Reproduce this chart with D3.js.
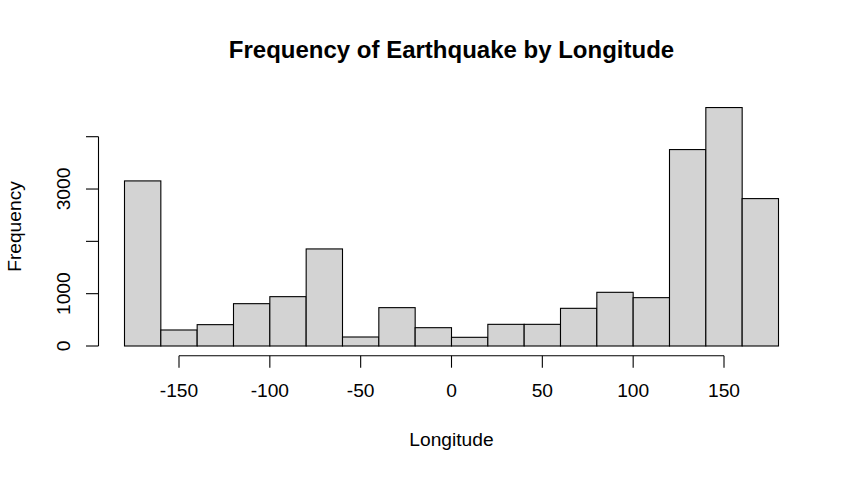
<!DOCTYPE html>
<html>
<head>
<meta charset="utf-8">
<script src="https://cdn.jsdelivr.net/npm/d3@7"></script>
<style>
  html, body { margin: 0; padding: 0; background: #fff; }
  text { font-family: "Liberation Sans", Arial, sans-serif; fill: #000; }
</style>
</head>
<body>
<div id="hist"></div>
<script>
// Bin edges and counts
const binStarts = [-180, -160, -140, -120, -100, -80, -60, -40, -20, 0, 20, 40, 60, 80, 100, 120, 140, 160];
const counts = [3155, 306, 408, 809, 943, 1855, 172, 733, 350, 166, 414, 414, 720, 1026, 924, 3754, 4557, 2817];
const binWidth = 20;
const xTicks = [-150, -100, -50, 0, 50, 100, 150];
const yTicks = [0, 1000, 2000, 3000, 4000];
const yLabels = [0, 1000, 3000]; // R drops the labels that would collide

const svgWidth = 855, svgHeight = 478;

const svg = d3.select("#hist")
  .append("svg")
  .attr("width", svgWidth)
  .attr("height", svgHeight)
  .style("display", "block");

// Scales
const x = d3.scaleLinear().domain([-180, 180]).range([124.5, 778.5]);
const y = d3.scaleLinear().domain([0, 4000]).range([346, 136.7]);

// Bars
svg.append("g")
  .selectAll("rect")
  .data(counts)
  .join("rect")
  .attr("x", (d, i) => x(binStarts[i]))
  .attr("y", d => y(d))
  .attr("width", (d, i) => x(binStarts[i] + binWidth) - x(binStarts[i]))
  .attr("height", d => y(0) - y(d))
  .attr("fill", "#d3d3d3")
  .attr("stroke", "#000")
  .attr("stroke-width", 1.1);

// X axis, sits below the bars like base R (plain hyphen on the negatives)
const xAxis = svg.append("g")
  .attr("transform", "translate(0,355.7)")
  .call(d3.axisBottom(x).offset(0).tickValues(xTicks).tickSizeOuter(0).tickSize(12).tickPadding(16).tickFormat(d => String(d)));
xAxis.select(".domain").attr("d", `M${x(xTicks[0])},0H${x(xTicks[xTicks.length - 1])}`);

// Y axis
const yAxis = svg.append("g")
  .attr("transform", "translate(98.5,0)")
  .call(d3.axisLeft(y).offset(0).tickValues(yTicks).tickSizeOuter(0).tickSize(12.5)
    .tickFormat(d => yLabels.includes(d) ? d : ""));
yAxis.select(".domain").attr("d", `M0,${y(0)}V${y(4000)}`);
yAxis.selectAll(".tick text")
  .attr("x", 0)
  .attr("dy", 0)
  .attr("y", 0)
  .attr("text-anchor", "middle")
  .attr("transform", "translate(-29,0) rotate(-90)");

svg.selectAll(".tick text").style("font-size", "19.2px").style("font-family", '"Liberation Sans", Arial, sans-serif');
svg.selectAll(".domain, .tick line").attr("stroke", "#000").attr("stroke-width", 1.1);

// Title and axis labels
svg.append("text")
  .attr("x", 451.5)
  .attr("y", 58)
  .attr("text-anchor", "middle")
  .style("font-size", "24px")
  .style("font-weight", "bold")
  .text("Frequency of Earthquake by Longitude");

svg.append("text")
  .attr("x", 451.5)
  .attr("y", 446)
  .attr("text-anchor", "middle")
  .style("font-size", "19.2px")
  .text("Longitude");

svg.append("text")
  .attr("transform", "translate(21,226.5) rotate(-90)")
  .attr("text-anchor", "middle")
  .style("font-size", "19.2px")
  .text("Frequency");
</script>
</body>
</html>
